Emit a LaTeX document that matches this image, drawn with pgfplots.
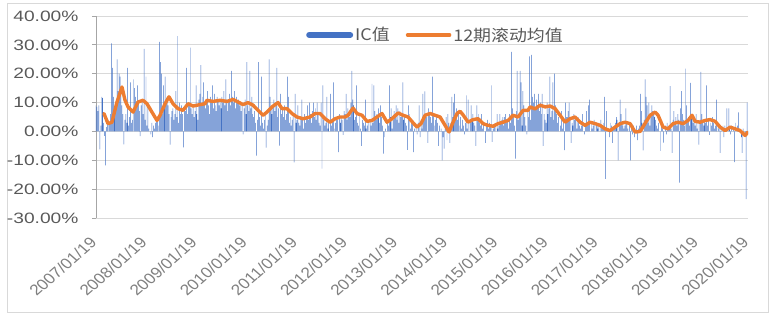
\documentclass[border=0pt]{standalone}
\usepackage{fontspec}
\setmainfont{Liberation Sans}
\newfontfamily\cjk{Noto Sans CJK SC}
\usepackage{graphicx}
\usepackage{pgfplots}
\usepackage{pgfplotstable}
\pgfplotsset{compat=1.18}
\definecolor{icblue}{HTML}{4472C4}
\definecolor{maorange}{HTML}{ED7D31}
\definecolor{gridgray}{HTML}{D9D9D9}
\definecolor{axisgray}{HTML}{A6A6A6}
\definecolor{txtgray}{HTML}{595959}
\definecolor{xlabgray}{HTML}{808080}
\definecolor{framegray}{HTML}{D9D9D9}
\newcommand{\ylab}[1]{\scalebox{1.28}[1]{#1}}
\newcommand{\xlab}[1]{\scalebox{1.15}[1]{\rotatebox{45}{#1}}}
\newcommand{\leg}[1]{\scalebox{1.12}[1]{\cjk #1}}

% weekly IC values (%), 2007/01/19 onward
\pgfplotstableread[row sep=\\]{
v\\
9\\ 8.5\\ 7\\ 9\\ -6.2\\ 2\\ 12\\ 11.5\\ 3\\ -1.5\\
-11.8\\ 1.5\\ 3\\ 4\\ 2.5\\ 6\\ 30.5\\ 22\\ 12\\ 5\\
8\\ 10\\ 25\\ 14\\ 20\\ 19\\ 13\\ 9\\ 6\\ -4.5\\
4\\ 6\\ 3\\ 22\\ 2\\ 5\\ 17\\ 3\\ 4\\ 18\\
15\\ 12\\ 8\\ 16\\ 10\\ 7\\ -1.6\\ 9\\ 11\\ 6\\
28.6\\ 4\\ 19\\ 2\\ 10\\ 1\\ 0\\ -1\\ 3\\ -2\\
2\\ 1\\ 3\\ 5\\ 4\\ 2\\ 31\\ 24\\ 20\\ 6\\
16\\ 8\\ 19\\ 10\\ 12\\ 9\\ 6\\ -4.6\\ 5\\ 7\\
8\\ 4\\ 6\\ 14\\ 5\\ 33\\ 3\\ 10\\ 6\\ 9\\
6\\ -5.5\\ 8\\ 7\\ 22\\ 6\\ 9\\ 10\\ 29\\ 8\\
6\\ 9\\ 5\\ 7\\ 16\\ 6\\ 4\\ 11\\ 13\\ 23\\
9\\ 12\\ 17\\ 10\\ 8\\ 11\\ 14\\ 9\\ 6\\ 12\\
10\\ 16\\ 8\\ 13\\ 9\\ 7\\ 12\\ 11\\ 9\\ 10\\
8\\ 12\\ 10\\ 14\\ 9\\ 18\\ 11\\ 7\\ 10\\ 13\\
9\\ 21\\ 12\\ 10\\ 14\\ 8\\ 12\\ 10\\ 11\\ 9\\
10\\ 7\\ 9\\ -1\\ 8\\ 11\\ 6\\ 24\\ 9\\ 7\\
21\\ 8\\ 12\\ 6\\ 5\\ 7\\ 3\\ -8.4\\ 4\\ 24\\
5\\ 2\\ 19\\ 3\\ 1\\ 4\\ 6\\ -5.6\\ 2\\ 4\\
25\\ 12\\ 8\\ 6\\ 9\\ 11\\ 7\\ 10\\ 22\\ 5\\
8\\ -4.9\\ 13\\ 6\\ 8\\ 5\\ 9\\ 4\\ 6\\ 19\\
12\\ 3\\ 5\\ 2\\ 4\\ 6\\ -10.7\\ 13\\ 3\\ 4\\
9\\ 3\\ 2\\ 5\\ 11\\ 4\\ 1\\ 6\\ 3\\ 5\\
9\\ 4\\ 10\\ 6\\ 3\\ 7\\ 10\\ 5\\ 8\\ 4\\
10\\ 6\\ 3\\ 2\\ 10\\ -12.9\\ 16\\ 4\\ 2\\ 3\\
12\\ 1\\ 3\\ 0\\ 13\\ 2\\ 4\\ 17\\ 1\\ 3\\
5\\ 4\\ -7.2\\ 6\\ 3\\ 5\\ 4\\ -1.2\\ 7\\ 6\\
13\\ 4\\ 8\\ 6\\ 5\\ 10\\ 21\\ 11\\ 9\\ 4\\
5\\ 16\\ 3\\ 2\\ 6\\ 1\\ -5\\ 4\\ 3\\ 2\\
11\\ 1\\ 2\\ 3\\ 0\\ 4\\ 2\\ 16.5\\ 3\\ 16\\
7\\ 4\\ 6\\ 5\\ 8\\ 3\\ 9\\ 5\\ 2\\ -7.7\\
-2\\ 1\\ 0\\ 3\\ 2\\ 16\\ 5\\ 8\\ 1\\ 4\\
7\\ 6\\ 9\\ 4\\ 8\\ 3\\ 7\\ 5\\ 6\\ 17\\
4\\ 5\\ 3\\ 2\\ -6.4\\ 9\\ 6\\ 1\\ 4\\ 3\\
-7.2\\ 1\\ 0\\ 2\\ -1\\ 3\\ 9\\ -2\\ 4\\ 1\\
13\\ 4\\ 13.9\\ 6\\ 5\\ -4\\ 8\\ 6\\ 5\\ 3\\
19\\ 6\\ 2\\ 4\\ 6\\ 3\\ -5\\ 2\\ 0\\ 1\\
-10\\ -2\\ -6\\ 1\\ 5\\ -3\\ 6\\ 3\\ -4\\ 3\\
12\\ 5\\ 10\\ 13\\ 4\\ 8\\ 4\\ 6\\ 2\\ 5\\
1\\ 4\\ 2\\ -1\\ 3\\ 12.5\\ 1\\ 11\\ 0\\ 4\\
9\\ 4\\ 6\\ 3\\ 2\\ -5\\ 9\\ 5\\ 6\\ 3\\
2\\ 6\\ 1\\ 3\\ 0\\ -4\\ 2\\ 4\\ 1\\ 3\\
2\\ 16\\ -3.6\\ 1\\ 2\\ 3\\ 0\\ 6\\ 1\\ 2\\
6\\ 3\\ 4\\ 5\\ 2\\ 5\\ 6\\ 3\\ 4\\ 1\\
6\\ 3\\ 27.6\\ 8\\ 5\\ 2\\ -9.4\\ 7\\ 21\\ 4\\
6\\ 21\\ 17\\ 2\\ 14\\ 9\\ 5\\ 2\\ -1\\ 8\\
5\\ 26\\ 4\\ 26.5\\ 12\\ 10\\ 13\\ 8\\ 11\\ 9\\
13\\ 7\\ 10\\ 6\\ 13\\ -5\\ 6\\ 4\\ 3\\ 10\\
6\\ 8\\ 19\\ 5\\ 7\\ 17\\ 4\\ 20\\ 9\\ 6\\
3\\ 5\\ 0\\ 2\\ 7\\ 1\\ 3\\ -6.5\\ 10\\ 5\\
5\\ 7\\ 10\\ 5\\ -4\\ 3\\ 2\\ 6\\ 4\\ 5\\
1\\ 4\\ 5\\ 2\\ 1\\ 2\\ 6\\ 0\\ -1\\ 3\\
7\\ 2\\ 9\\ 11\\ 0\\ 3\\ 1\\ 2\\ 4\\ 0\\
3\\ 2\\ 1\\ 3\\ 0\\ 4\\ 2\\ 1\\ 3\\ 12\\
-16.4\\ 7\\ 1\\ 0\\ -2\\ 3\\ 2\\ -4\\ 1\\ 2\\
3\\ 5\\ 4\\ -10\\ 2\\ 11\\ 6\\ 3\\ 2\\ 1\\
2\\ 8\\ 3\\ 1\\ 0\\ 2\\ -10\\ 1\\ -1\\ 2\\
-2\\ 0\\ 2\\ -3\\ 1\\ 2\\ 13\\ 7\\ 3\\ -6.6\\
4\\ 18\\ 12\\ 9\\ 3\\ 10\\ 2\\ 6\\ 9\\ 7\\
6.6\\ 5\\ 4\\ 2\\ 1\\ 3\\ 0\\ -6.7\\ 2\\ 1\\
-3.9\\ 0\\ 2\\ -1\\ 3\\ 1\\ 2\\ 15.7\\ 1\\ -7.4\\
4\\ 7\\ 3\\ 5\\ 2\\ 6\\ 4\\ -17.7\\ 8\\ 14\\
6\\ 4\\ 2\\ 21.8\\ 9\\ 3\\ 5\\ 2\\ 16.8\\ 5\\
5\\ 3\\ 4\\ 2\\ 6\\ 1\\ 3\\ -4.6\\ 4\\ 20.6\\
6\\ 3\\ 2\\ 4\\ 3\\ 16\\ 2\\ 4\\ -1.2\\ 3\\
2\\ 5\\ 3\\ 1\\ 2\\ 11\\ 0\\ 2\\ 1\\ -7.4\\
1\\ 0\\ 2\\ -2\\ 2\\ 1\\ 8\\ 0\\ 8\\ 1\\
-1\\ 2\\ 0\\ 1\\ -10.6\\ 3\\ 0\\ 2\\ 6.6\\ 1\\
0\\ -2\\ -7.4\\ 1\\ 0\\ -1\\ -23.5\\ 10\\ -1\\
}\icdata

% 12-period rolling mean (%), x in weeks
\pgfplotstableread{
w v
8.3 6.2
12.5 2.7
16.6 3.2
21.8 10.2
27.0 15.4
30.2 10.8
33.3 8.5
38.5 6.7
43.7 10.2
48.9 10.8
53.0 9.6
58.2 6.7
63.4 3.8
66.6 5.6
71.8 9.6
75.9 12
80.1 9.6
85.3 7.9
90.5 7.3
95.7 9.6
100.9 8.8
108.2 9.3
113.4 9.6
115.4 10.8
121.7 10.4
129.0 10.8
136.2 10.4
142.5 11.1
147.7 10.2
152.9 9.3
158.1 10
163.3 9.1
168.5 7.3
173.7 5.6
177.8 6.7
183.0 8.5
189.3 10
193.4 7.9
198.6 7.9
203.8 6.2
209.0 5
215.3 4.4
222.6 5
227.8 6.2
233.0 6.2
238.2 4.4
243.4 3.2
248.6 4.4
253.8 5
259.0 5
262.1 5.6
267.3 8.1
271.4 6.2
276.6 5.6
281.8 3.5
287.0 3.8
292.2 5
297.4 6.2
302.6 3.2
307.8 4.4
314.1 6.4
319.3 5.6
324.5 5
329.7 3
333.8 1.5
338.0 2.7
342.2 5.6
347.4 6.2
352.6 5.6
357.8 5
363.0 2.1
367.1 -0.2
371.3 3.2
375.4 6.2
378.6 7
382.0 5.6
386.9 3.2
392.1 4.1
397.3 4.4
402.5 2.7
407.7 2.1
412.9 1.8
418.1 2.7
423.3 3.2
428.5 3.8
433.7 5.6
438.9 5
444.1 7.3
449.3 7.3
451.4 8.5
456.6 7.8
461.8 9.1
467.0 8.5
472.2 8.8
477.4 7.9
482.6 5.6
487.8 3.2
492.9 4.4
498.2 5
503.4 3.2
508.6 2.1
513.8 3.2
519.0 2.7
524.2 2.1
529.4 0.9
534.6 0.3
539.8 1.5
545.0 2.7
550.2 3.2
555.4 2.7
560.6 -0.2
565.8 0
571.0 2.8
576.2 5.6
581.4 6.7
584.5 5.6
589.7 1.5
594.9 0.9
600.1 2.7
605.3 3.2
610.5 2.7
615.7 3.8
619.8 5.6
623.0 3.5
628.2 3.2
633.4 3.8
638.6 4.1
643.8 3.5
649.0 1.5
654.2 0.3
659.4 1.5
664.6 0.9
669.8 0.3
675.0 -1.4
678.0 -0.2
}\madata

\begin{document}
\begin{tikzpicture}
\useasboundingbox (0pt,0pt) rectangle (771pt,315pt);
\draw[framegray, line width=0.8pt] (7pt,3pt) rectangle (768pt,312pt);
\begin{axis}[
  at={(96pt,97pt)}, anchor=south west,
  scale only axis, width=652pt, height=202pt,
  xmin=0, xmax=678, ymin=-30, ymax=40,
  axis lines*=left,
  axis line style={-},
  x axis line style={draw=none},
  y axis line style={draw=axisgray, line width=0.8pt},
  ytick={-30,-20,...,40},
  yticklabels={\ylab{-30.00\%},\ylab{-20.00\%},\ylab{-10.00\%},\ylab{0.00\%},\ylab{10.00\%},\ylab{20.00\%},\ylab{30.00\%},\ylab{40.00\%}},
  ymajorgrids, grid style={gridgray, line width=0.8pt},
  tick align=outside,
  major tick length=4pt,
  ytick style={axisgray, line width=0.8pt},
  xtick={0,52.15,104.31,156.46,208.62,260.77,312.92,365.08,417.23,469.38,521.54,573.69,625.85,678},
  xticklabels={\xlab{2007/01/19},\xlab{2008/01/19},\xlab{2009/01/19},\xlab{2010/01/19},\xlab{2011/01/19},\xlab{2012/01/19},\xlab{2013/01/19},\xlab{2014/01/19},\xlab{2015/01/19},\xlab{2016/01/19},\xlab{2017/01/19},\xlab{2018/01/19},\xlab{2019/01/19},\xlab{2020/01/19}},
  xtick style={draw=none},
  yticklabel style={font=\fontsize{15}{15}\selectfont, text=txtgray, anchor=east, xshift=-10pt},
  xticklabel style={font=\fontsize{15}{15}\selectfont, text=xlabgray, anchor=north east, inner sep=0pt, xshift=2pt, yshift=-14pt},
  legend style={at={(0.5207,0.906)}, anchor=center, draw=none, fill=none,
    font=\fontsize{16}{16}\selectfont, text=txtgray,
    /tikz/every even column/.append style={column sep=14pt}},
  legend columns=2,
]
\addplot[ybar, bar width=0.5, fill=icblue, draw=none,
  legend image code/.code={\draw[icblue, line width=6pt, line cap=round] (3pt,0pt) -- (44pt,0pt);}]
  table[x expr=\coordindex, y=v] {\icdata};
\addlegendentry{\leg{IC值}}
\addplot[maorange, line width=3.4pt, line join=round, line cap=round,
  legend image code/.code={\draw[maorange, line width=3.5pt] (0pt,0pt) -- (42pt,0pt);}]
  table[x=w, y=v] {\madata};
\addlegendentry{\leg{12期滚动均值}}
\end{axis}
\end{tikzpicture}
\end{document}
